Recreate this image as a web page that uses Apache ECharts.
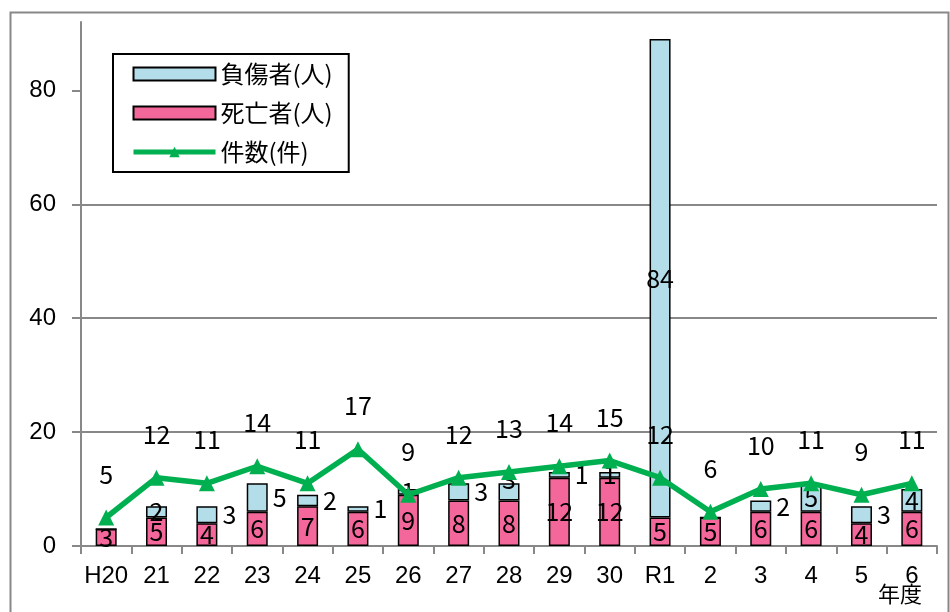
<!DOCTYPE html>
<html><head><meta charset="utf-8">
<script src="https://cdn.jsdelivr.net/npm/echarts@6/dist/echarts.min.js"></script>
<style>html,body{margin:0;padding:0;background:#fff}#c{width:950px;height:612px}</style>
</head><body><div id="c"></div>
<script>
const categories = ['H20','21','22','23','24','25','26','27','28','29','30','R1','2','3','4','5','6'];
const deaths   = [3,5,4,6,7,6,9,8,8,12,12,5,5,6,6,4,6];
const injured  = [0,2,3,5,2,1,1,3,3,1,1,84,0,2,5,3,4];
const cases    = [5,12,11,14,11,17,9,12,13,14,15,12,6,10,11,9,11];

const chart = echarts.init(document.getElementById('c'));
const labFont = {fontFamily:'"Noto Sans CJK JP"', fontSize:25, color:'#000'};
// which injured labels sit to the right of their bar (as in the original)
const rightIdx = new Set([2,3,4,5,7,9,13,15]);
const injuredData = injured.map((v,i)=>{
  const d = {value:v};
  if (v === 0) d.label = {show:false};
  else if (rightIdx.has(i)) d.label = {position:'right', distance:5};
  else if (i === 8) d.label = {position:'inside', offset:[0,-12]};
  return d;
});
const option = {
  animation:false,
  grid:{left:81, right:13, top:22, bottom:66},
  legend:{
    data:[{name:'負傷者(人)', icon:'rect'},{name:'死亡者(人)', icon:'rect'},{name:'件数(件)', lineStyle:{width:5}}],
    left:113, top:54, orient:'vertical',
    backgroundColor:'#fff', borderColor:'#000', borderWidth:2,
    padding:[8,16,8,18], itemGap:15, itemWidth:82, itemHeight:13, itemTextGap:10,
    textStyle:{fontFamily:'"Noto Sans CJK JP"', fontSize:24, color:'#000'}
  },
  xAxis:{
    type:'category', data:categories,
    axisLine:{lineStyle:{color:'#888', width:2}},
    axisTick:{show:true, length:8, interval:0, lineStyle:{color:'#888', width:2}},
    axisLabel:{interval:0, fontFamily:'"Liberation Sans"', fontSize:24, color:'#000', margin:18}
  },
  yAxis:{
    type:'value', min:0, max:92, interval:20,
    axisLine:{show:true, lineStyle:{color:'#888', width:2}},
    axisTick:{show:true, length:9, lineStyle:{color:'#888', width:2}, customValues:[0,20,40,60,80]},
    axisLabel:{fontFamily:'"Liberation Sans"', fontSize:24, color:'#000', margin:25, showMaxLabel:false},
    splitLine:{show:true, showMaxLine:false, lineStyle:{color:'#888', width:2}}
  },
  series:[
    {name:'死亡者(人)', type:'bar', stack:'a', data:deaths, barWidth:21,
     itemStyle:{color:'#f4679a', borderColor:'#000', borderWidth:1.5},
     label:{show:true, position:'inside', ...labFont}},
    {name:'負傷者(人)', type:'bar', stack:'a', data:injuredData, barWidth:21,
     itemStyle:{color:'#b3dde8', borderColor:'#000', borderWidth:1.5},
     label:{show:true, position:'inside', ...labFont}},
    {name:'件数(件)', type:'line', data:cases, z:5,
     lineStyle:{color:'#00b050', width:5.5}, itemStyle:{color:'#00b050'},
     symbol:'triangle', symbolSize:16,
     label:{show:true, position:'top', distance:23, ...labFont}}
  ],
  graphic:[
    {type:'rect', left:8, top:10, shape:{width:938, height:640}, style:{fill:'none', stroke:'#888', lineWidth:2}, silent:true},
    {type:'text', left:878, top:583, style:{text:'年度', font:'22px "Noto Sans CJK JP"', fill:'#000'}}
  ]
};
chart.setOption(option);
</script></body></html>
